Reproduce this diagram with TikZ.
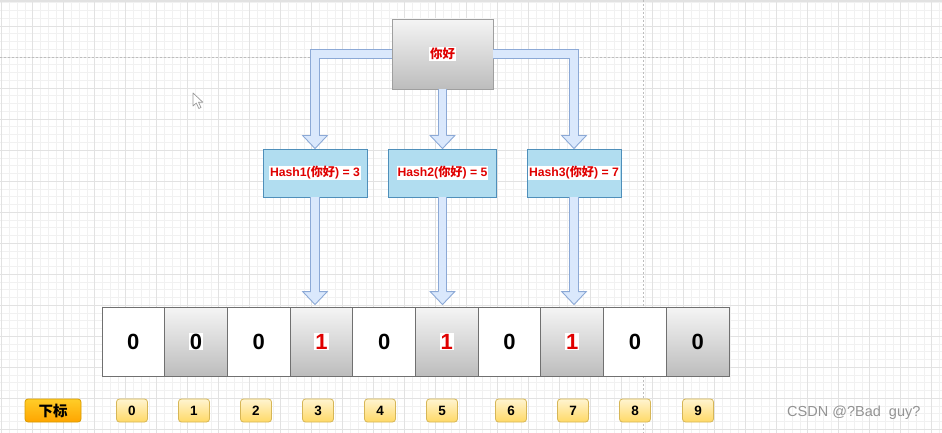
\documentclass[tikz,border=0pt]{standalone}
\usepackage{fontspec}
\setmainfont{Liberation Sans}
\newfontfamily\cjk{Noto Sans CJK SC}
\usetikzlibrary{calc}
\definecolor{minorg}{HTML}{F1F1F1}
\definecolor{majorg}{HTML}{E2E2E2}
\definecolor{dashg}{HTML}{BDBDBD}
\definecolor{arrfill}{HTML}{DAE8FC}
\definecolor{arrline}{HTML}{8CA9D6}
\definecolor{hashfill}{HTML}{B1DDF0}
\definecolor{hashline}{HTML}{4F8FBA}
\definecolor{txtred}{HTML}{E00000}
\definecolor{cellline}{HTML}{707070}
\definecolor{yelltop}{HTML}{FFF4D0}
\definecolor{yellbot}{HTML}{FFD966}
\definecolor{yellline}{HTML}{D6B656}
\definecolor{orgtop}{HTML}{FFCD28}
\definecolor{orgbot}{HTML}{FFA500}
\definecolor{orgline}{HTML}{D79B00}
\newcommand{\wbg}[1]{{\setlength\fboxsep{1pt}\colorbox{white}{#1}}}
\tikzset{
  graybox/.style={draw=#1, line width=0.9pt, top color=gray!8, bottom color=gray!52, inner sep=0pt},
  whitebox/.style={draw=cellline, line width=1pt, fill=white, inner sep=0pt},
  cellbox/.style={minimum width=62.7pt, minimum height=69pt, font=\fontsize{22}{24}\selectfont\bfseries},
  hashbox/.style={draw=hashline, line width=0.9pt, fill=hashfill, minimum height=48pt, inner sep=0pt, text=txtred, font=\fontsize{12.2}{14}\selectfont\bfseries},
  idxbox/.style={draw=yellline, line width=0.8pt, rounded corners=3pt, top color=yelltop, bottom color=yellbot, minimum width=31pt, minimum height=23pt, inner sep=0pt, font=\fontsize{13.5}{15}\selectfont\bfseries},
  labbox/.style={draw=orgline, line width=0.8pt, rounded corners=3pt, top color=orgtop, bottom color=orgbot, minimum width=56pt, minimum height=23pt, inner sep=0pt, font=\fontsize{14.5}{16}\selectfont\bfseries\cjk},
  flexshaft/.style={draw=arrline, line width=0.9pt, double=arrfill, double distance=7.5pt, line join=miter},
  headdown/.pic={
    \fill[arrfill] (0,0) -- (-12.3,-13) -- (12.3,-13) -- cycle;
    \draw[arrline, line width=0.9pt, line join=miter] (-4.2,-13) -- (-12.3,-13) -- (0,0) -- (12.3,-13) -- (4.2,-13);
  }
}
\begin{document}
\begin{tikzpicture}[x=1pt,y=-1pt]
\useasboundingbox (0,0) rectangle (942,433);
\fill[white] (0,0) rectangle (942,433);
% grid
\foreach \i in {0,...,121} \draw[minorg, line width=0.5pt] ({1.5+7.75*\i},0) -- ({1.5+7.75*\i},433);
\foreach \j in {0,...,55} \draw[minorg, line width=0.5pt] (0,{2.75+7.75*\j}) -- (942,{2.75+7.75*\j});
\foreach \i in {0,...,30} \draw[majorg, line width=0.8pt] ({1.5+31*\i},0) -- ({1.5+31*\i},433);
\foreach \j in {0,...,13} \draw[majorg, line width=0.8pt] (0,{26+31*\j}) -- (942,{26+31*\j});
\draw[majorg, line width=1.5pt] (0,1) -- (942,1);
\draw[dashg, line width=0.8pt, dash pattern=on 2pt off 2pt] (0,57) -- (942,57);
\draw[dashg, line width=0.8pt, dash pattern=on 2pt off 2pt] (643,0) -- (643,433);
% cursor
\draw[fill=white, draw=gray!80, line width=0.7pt, line join=round] (193,93) -- (193,106) -- (196.3,103) -- (198.8,108.5) -- (201,107.5) -- (198.5,102.2) -- (202.8,102.2) -- cycle;
% top box
\node[graybox=gray!75, minimum width=101pt, minimum height=70pt] (top) at (442.5,54) {\fontsize{12.5}{14}\selectfont\bfseries\color{txtred}\wbg{\cjk 你好}};
% hash boxes
\node[hashbox, minimum width=104pt] (h1) at (315,173) {\wbg{Hash1({\cjk 你好}) = 3}};
\node[hashbox, minimum width=108pt] (h2) at (442.5,173) {\wbg{Hash2({\cjk 你好}) = 5}};
\node[hashbox, minimum width=94pt] (h3) at (574,173) {\wbg{Hash3({\cjk 你好}) = 7}};
% cells
\node[whitebox, cellbox] (c0) at ({102+62.7*0.5},341.5) {0};
\node[graybox=cellline, cellbox] (c1) at ({102+62.7*1.5},341.5) {\wbg{0}};
\node[whitebox, cellbox] (c2) at ({102+62.7*2.5},341.5) {0};
\node[graybox=cellline, cellbox] (c3) at ({102+62.7*3.5},341.5) {\wbg{\color{txtred}1}};
\node[whitebox, cellbox] (c4) at ({102+62.7*4.5},341.5) {0};
\node[graybox=cellline, cellbox] (c5) at ({102+62.7*5.5},341.5) {\wbg{\color{txtred}1}};
\node[whitebox, cellbox] (c6) at ({102+62.7*6.5},341.5) {0};
\node[graybox=cellline, cellbox] (c7) at ({102+62.7*7.5},341.5) {\wbg{\color{txtred}1}};
\node[whitebox, cellbox] (c8) at ({102+62.7*8.5},341.5) {0};
\node[graybox=cellline, cellbox] (c9) at ({102+62.7*9.5},341.5) {0};
% arrows top -> hash
\draw[flexshaft] (top.west) -| ($(h1.north)+(0,-13)$);
\pic at (h1.north) {headdown};
\draw[flexshaft] (top.south) -- ($(h2.north)+(0,-13)$);
\pic at (h2.north) {headdown};
\draw[flexshaft] (top.east) -| ($(h3.north)+(0,-13)$);
\pic at (h3.north) {headdown};
% arrows hash -> cells
\coordinate (t3) at ($(h1.south |- c3.north)+(0,-2)$);
\coordinate (t5) at ($(h2.south |- c5.north)+(0,-2)$);
\coordinate (t7) at ($(h3.south |- c7.north)+(0,-2)$);
\draw[flexshaft] (h1.south) -- ($(t3)+(0,-13)$);
\pic at (t3) {headdown};
\draw[flexshaft] (h2.south) -- ($(t5)+(0,-13)$);
\pic at (t5) {headdown};
\draw[flexshaft] (h3.south) -- ($(t7)+(0,-13)$);
\pic at (t7) {headdown};
% index row
\node[labbox] (lab) at (53,410.5) {下标};
\node[idxbox] (i0) at (132,410.5) {0};
\node[idxbox] (i1) at (194,410.5) {1};
\node[idxbox] (i2) at (256,410.5) {2};
\node[idxbox] (i3) at (318,410.5) {3};
\node[idxbox] (i4) at (380,410.5) {4};
\node[idxbox] (i5) at (442,410.5) {5};
\node[idxbox] (i6) at (511,410.5) {6};
\node[idxbox] (i7) at (573,410.5) {7};
\node[idxbox] (i8) at (635,410.5) {8};
\node[idxbox] (i9) at (698,410.5) {9};
% watermark
\node[text=gray!85, font=\fontsize{14.5}{16}\selectfont, anchor=west, inner sep=0pt] (wm) at (787,413) {CSDN @?Bad\ \ guy?};
\end{tikzpicture}
\end{document}
